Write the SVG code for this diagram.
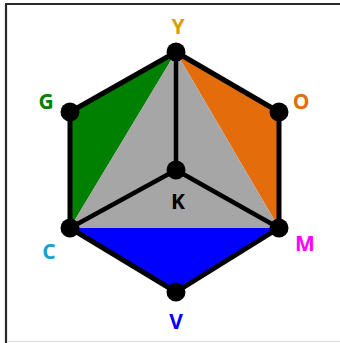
<svg xmlns="http://www.w3.org/2000/svg" width="340" height="343" viewBox="0 0 340 343">
  <style>
    .lbl { font-family: "Open Sans", "Liberation Sans", sans-serif; font-weight: bold; font-size: 21px; text-anchor: middle; }
    .node { fill: #000; }
    .edge { stroke: #000; stroke-width: 5; stroke-linecap: round; stroke-linejoin: round; fill: none; }
    .spoke { stroke: #000; stroke-width: 4.5; stroke-linecap: round; fill: none; }
  </style>
  <rect x="0" y="0" width="340" height="343" fill="#fff"/>
  <g id="frame">
    <line x1="6" y1="4" x2="6" y2="343" stroke="#2a2a2a" stroke-width="2.2"/>
    <line x1="5" y1="4" x2="340" y2="4" stroke="#2a2a2a" stroke-width="2.2"/>
    <line x1="7" y1="341.5" x2="340" y2="341.5" stroke="#dcdcdc" stroke-width="1.2"/>
  </g>
  <g id="regions">
    <polygon points="176,52 70,112 70,228" fill="#008000"/>
    <polygon points="176,52 279,112 279,228" fill="#e46c0a"/>
    <polygon points="70,228 279,228 176,292" fill="#0000ff"/>
    <polygon points="176,52 70,228 279,228" fill="#a6a6a6"/>
  </g>
  <g id="connectors">
    <polygon class="edge" points="176,52 279,112 279,228 176,292 70,228 70,112"/>
    <line class="spoke" x1="176" y1="52" x2="176" y2="170"/>
    <line class="spoke" x1="176" y1="170" x2="70" y2="228"/>
    <line class="spoke" x1="176" y1="170" x2="279" y2="228"/>
  </g>
  <g id="node-Y"><circle class="node" cx="176" cy="52" r="9.5"/><text class="lbl" x="178" y="34" fill="#d4a00c">Y</text></g>
  <g id="node-G"><circle class="node" cx="70" cy="112" r="9.5"/><text class="lbl" x="46" y="109" fill="#008000">G</text></g>
  <g id="node-O"><circle class="node" cx="279" cy="112" r="9.5"/><text class="lbl" x="301" y="109" fill="#e46c0a">O</text></g>
  <g id="node-K"><circle class="node" cx="176" cy="170" r="9.5"/><text class="lbl" x="178" y="209" fill="#000">K</text></g>
  <g id="node-C"><circle class="node" cx="70" cy="228" r="9.5"/><text class="lbl" x="49" y="259" fill="#1aa0d0">C</text></g>
  <g id="node-M"><circle class="node" cx="279" cy="228" r="9.5"/><text class="lbl" x="305" y="251" fill="#ff00ff">M</text></g>
  <g id="node-V"><circle class="node" cx="176" cy="292" r="9.5"/><text class="lbl" x="176" y="329" fill="#0000ff">V</text></g>
</svg>
